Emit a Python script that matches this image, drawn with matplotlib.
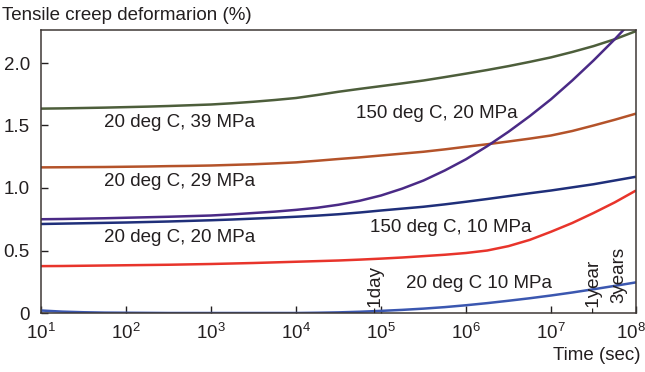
"""
Tensile creep deformation against time, log time axis
"""

import matplotlib.pyplot as plt
import matplotlib.transforms as mtrans
import numpy as np

plt.rcParams["font.family"] = ["Liberation Sans", "DejaVu Sans"]
plt.rcParams["mathtext.default"] = "regular"

# time read every quarter decade, 10^1 .. 10^8 s
log_t = [1.0, 1.25, 1.5, 1.75, 2.0, 2.25, 2.5, 2.75, 3.0, 3.25, 3.5, 3.75, 4.0, 4.25, 4.5,
         4.75, 5.0, 5.25, 5.5, 5.75, 6.0, 6.25, 6.5, 6.75, 7.0, 7.25, 7.5, 7.75, 8.0]

c20_39 = [1.635, 1.637, 1.64, 1.643, 1.647, 1.651, 1.656, 1.662, 1.668, 1.678, 1.69, 1.704,
          1.72, 1.744, 1.77, 1.793, 1.815, 1.837, 1.86, 1.887, 1.915, 1.944, 1.975, 2.009,
          2.045, 2.088, 2.135, 2.19, 2.255]
c20_29 = [1.165, 1.166, 1.167, 1.168, 1.17, 1.172, 1.175, 1.177, 1.18, 1.185, 1.19, 1.197,
          1.205, 1.218, 1.232, 1.245, 1.26, 1.275, 1.29, 1.309, 1.33, 1.35, 1.372, 1.395,
          1.42, 1.456, 1.50, 1.546, 1.595]
c150_20 = [0.75, 0.752, 0.755, 0.758, 0.762, 0.766, 0.77, 0.775, 0.78, 0.789, 0.80, 0.811,
           0.825, 0.842, 0.866, 0.898, 0.94, 0.995, 1.06, 1.14, 1.23, 1.335, 1.45, 1.575,
           1.71, 1.86, 2.02, 2.19, 2.37]
c20_20 = [0.712, 0.715, 0.718, 0.721, 0.724, 0.728, 0.732, 0.737, 0.742, 0.748, 0.755, 0.762,
          0.77, 0.779, 0.79, 0.804, 0.82, 0.835, 0.85, 0.869, 0.89, 0.912, 0.935, 0.958,
          0.98, 1.005, 1.03, 1.06, 1.09]
c150_10 = [0.375, 0.376, 0.378, 0.38, 0.382, 0.384, 0.386, 0.389, 0.392, 0.396, 0.40, 0.405,
           0.41, 0.415, 0.42, 0.427, 0.435, 0.444, 0.455, 0.466, 0.48, 0.50, 0.535, 0.585,
           0.65, 0.72, 0.80, 0.885, 0.98]
c20_10 = [0.02, 0.011, 0.006, 0.003, 0.002, 0.001, 0.0, 0.0, 0.0, 0.0, 0.0, 0.0,
          0.0, 0.002, 0.005, 0.01, 0.017, 0.025, 0.035, 0.047, 0.062, 0.079, 0.098, 0.118,
          0.14, 0.164, 0.19, 0.217, 0.245]

series = [
    (c20_39, "#4d5e3b"),
    (c20_29, "#b4532a"),
    (c150_10, "#e8342b"),
    (c20_10, "#3b57b0"),
    (c20_20, "#1f2f7a"),
    (c150_20, "#4a2a86"),
]

# curve labels: text, log10 time of left edge, value
labels = [
    ("20 deg C, 39 MPa", 1.74, 1.52),
    ("20 deg C, 29 MPa", 1.74, 1.05),
    ("20 deg C, 20 MPa", 1.74, 0.60),
    ("150 deg C, 20 MPa", 4.71, 1.60),
    ("150 deg C, 10 MPa", 4.87, 0.68),
    ("20 deg C 10 MPa", 5.29, 0.24),
]

# rotated time marks: text, time (s), bottom value
marks = [("-1day", 86400, 0.0), ("-1year", 3.15e7, 0.0), ("3years", 6.2e7, 0.08)]

fig = plt.figure(figsize=(6.45, 3.72), dpi=100)
ax = fig.add_axes([41 / 645, 59 / 372, 595 / 645, 283 / 372])

t = 10 ** np.array(log_t)
for vals, col in series:
    ax.plot(t, vals, color=col, lw=1.8, solid_capstyle="butt")

ax.set_xscale("log")
ax.set_xlim(10, 1e8)
ax.set_ylim(0, 2.264)

ax.set_xticks([10.0 ** k for k in range(1, 9)])
ax.set_xticklabels([f"$10^{{{k}}}$" for k in range(1, 9)])
ax.xaxis.set_minor_locator(plt.NullLocator())
ax.set_yticks([0, 0.5, 1.0, 1.5, 2.0])
ax.set_yticklabels(["0", "0.5", "1.0", "1.5", "2.0"])
ax.tick_params(direction="in", length=5, width=1, colors="#231f20",
               labelsize=13.5, pad=7)
ax.tick_params(axis="y", pad=8)

# last x label sits a little left so it stays inside the figure
last = ax.get_xticklabels()[-1]
last.set_transform(last.get_transform() + mtrans.ScaledTranslation(-5 / 100, 0, fig.dpi_scale_trans))

for s in ax.spines.values():
    s.set_color("#3e3836")
    s.set_linewidth(1.1)

for txt, lx, y in labels:
    ax.text(10 ** lx, y, txt, fontsize=13.5, color="#231f20", ha="left", va="center")

for txt, x, y in marks:
    ax.text(x, y, txt, fontsize=13.5, color="#231f20", rotation=90,
            ha="center", va="bottom")

fig.text(0.003, 1 - 15 / 372, "Tensile creep deformarion (%)", fontsize=13.5,
         color="#231f20", ha="left", va="center")
fig.text(0.993, 1 - 355 / 372, "Time (sec)", fontsize=13.5,
         color="#231f20", ha="right", va="center")

fig.savefig("out.png", dpi=100)
